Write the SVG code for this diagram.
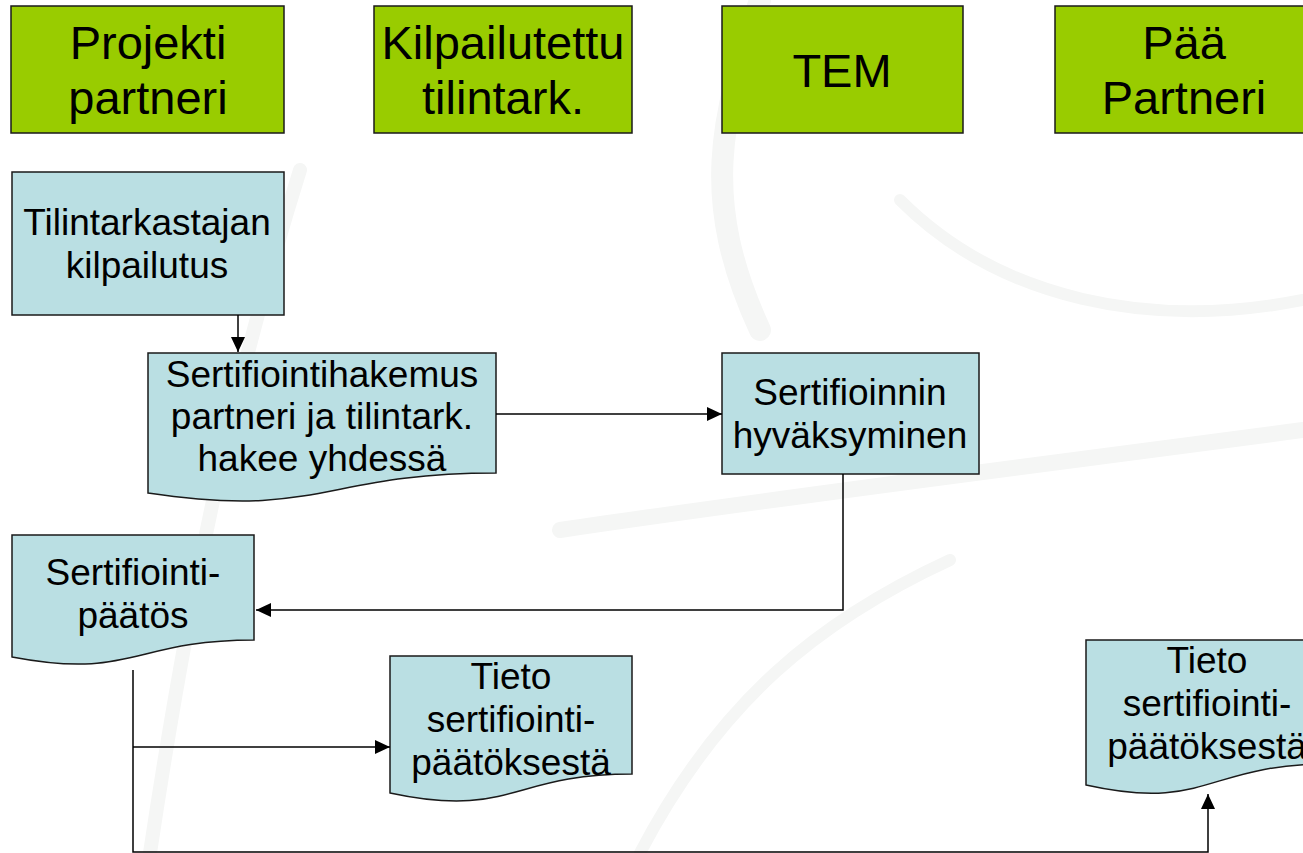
<svg xmlns="http://www.w3.org/2000/svg" width="1303" height="853" viewBox="0 0 1303 853">
  <defs>
    <marker id="arr" markerUnits="userSpaceOnUse" markerWidth="16" markerHeight="16" refX="15" refY="8" orient="auto">
      <path d="M0,1 L15,8 L0,15 Z" fill="#000"/>
    </marker>
    <style>
      .hdr { fill: #99CC00; stroke: #1a1a1a; stroke-width: 1.5; }
      .blue { fill: #BADFE3; stroke: #1a1a1a; stroke-width: 1.5; }
      .ht { font-family: "Liberation Sans", Arial, sans-serif; font-size: 47px; fill: #000; text-anchor: middle; }
      .bt { font-family: "Liberation Sans", Arial, sans-serif; font-size: 37px; fill: #000; text-anchor: middle; }
      .con { fill: none; stroke: #000; stroke-width: 1.5; }
      .wm { fill: none; stroke: #F5F6F5; stroke-linecap: round; }
    </style>
  </defs>
  <rect width="1303" height="853" fill="#fff"/>
  <g id="watermark">
    <path class="wm" stroke-width="22" d="M760,0 C720,120 700,200 760,330"/>
    <path class="wm" stroke-width="14" d="M300,170 C250,330 200,520 150,853"/>
    <path class="wm" stroke-width="16" d="M560,530 C760,500 1000,470 1303,430"/>
    <path class="wm" stroke-width="12" d="M900,200 C1000,300 1150,330 1303,300"/>
    <path class="wm" stroke-width="12" d="M640,853 C720,700 820,620 950,560"/>
  </g>
  <g id="h1">
    <rect class="hdr" x="11" y="6" width="273" height="127"/>
    <text class="ht" x="148" y="59">Projekti</text>
    <text class="ht" x="148" y="114">partneri</text>
  </g>
  <g id="h2">
    <rect class="hdr" x="374" y="6" width="258" height="127"/>
    <text class="ht" x="503" y="59">Kilpailutettu</text>
    <text class="ht" x="503" y="114">tilintark.</text>
  </g>
  <g id="h3">
    <rect class="hdr" x="722" y="6" width="241" height="127"/>
    <text class="ht" x="842" y="87">TEM</text>
  </g>
  <g id="h4">
    <rect class="hdr" x="1055" y="6" width="260" height="127"/>
    <text class="ht" x="1184" y="59">Pää</text>
    <text class="ht" x="1184" y="114">Partneri</text>
  </g>
  <g id="n1">
    <rect class="blue" x="12" y="172" width="272" height="143"/>
    <text class="bt" x="147" y="235">Tilintarkastajan</text>
    <text class="bt" x="147" y="278">kilpailutus</text>
  </g>
  <g id="n2">
    <path class="blue" d="M148,353 H496 V473 C322,473 322,519 148,493 Z"/>
    <text class="bt" x="322" y="387">Sertifiointihakemus</text>
    <text class="bt" x="322" y="429">partneri ja tilintark.</text>
    <text class="bt" x="322" y="471">hakee yhdessä</text>
  </g>
  <g id="n3">
    <rect class="blue" x="722" y="353" width="257" height="121"/>
    <text class="bt" x="850" y="405">Sertifioinnin</text>
    <text class="bt" x="850" y="448">hyväksyminen</text>
  </g>
  <g id="n4">
    <path class="blue" d="M12,535 H254 V640 C133,640 133,680 12,657 Z"/>
    <text class="bt" x="133" y="585">Sertifiointi-</text>
    <text class="bt" x="133" y="628">päätös</text>
  </g>
  <g id="n5">
    <path class="blue" d="M390,656 H632 V774 C511,774 511,819 390,793 Z"/>
    <text class="bt" x="511" y="689">Tieto</text>
    <text class="bt" x="511" y="732">sertifiointi-</text>
    <text class="bt" x="511" y="775">päätöksestä</text>
  </g>
  <g id="n6">
    <path class="blue" d="M1086,640 H1328 V764 C1207,764 1207,812 1086,785 Z"/>
    <text class="bt" x="1207" y="673">Tieto</text>
    <text class="bt" x="1207" y="716">sertifiointi-</text>
    <text class="bt" x="1207" y="759">päätöksestä</text>
  </g>
  <g id="connectors">
    <path class="con" d="M238,315 V352" marker-end="url(#arr)"/>
    <path class="con" d="M496,414 H722" marker-end="url(#arr)"/>
    <path class="con" d="M843,474 V610 H256" marker-end="url(#arr)"/>
    <path class="con" d="M133,670 V852 H1208 V794" marker-end="url(#arr)"/>
    <path class="con" d="M133,747 H390" marker-end="url(#arr)"/>
  </g>
</svg>
